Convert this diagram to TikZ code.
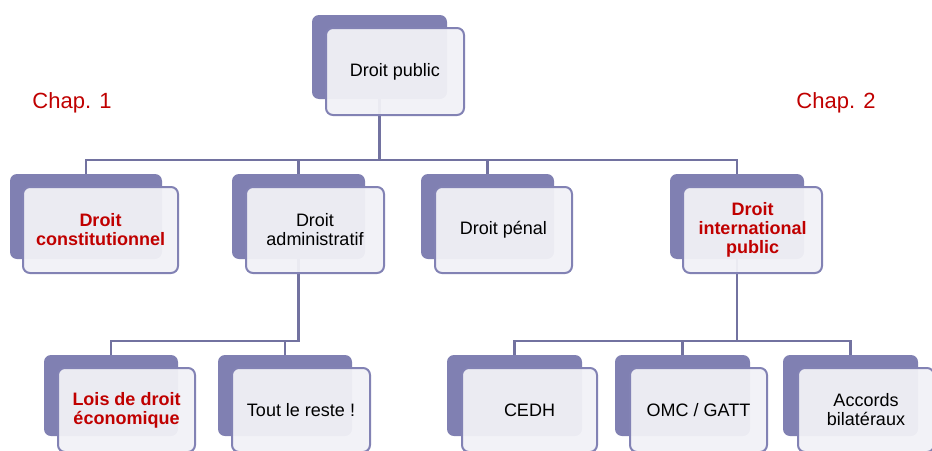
\documentclass[tikz,border=0pt]{standalone}
\usepackage{fontspec}
\setmainfont{Liberation Sans}
\usetikzlibrary{backgrounds}
\definecolor{backfill}{HTML}{8080B2}
\definecolor{frontline}{HTML}{8282B4}
\definecolor{frontfill}{HTML}{F2F2F7}
\definecolor{linkcol}{HTML}{7272A0}
\definecolor{redtxt}{HTML}{C00000}
\tikzset{
  backbox/.style={rectangle, rounded corners=7pt, fill=backfill, draw=none, inner sep=0pt},
  frontbox/.style={rectangle, rounded corners=7pt, draw=frontline, line width=2pt,
    fill=frontfill, fill opacity=0.94, text opacity=1, inner sep=2pt, align=center,
    font=\fontsize{18}{19}\selectfont},
  hot/.style={text=redtxt, font=\fontsize{18}{19}\selectfont\bfseries},
  conn/.style={draw=linkcol, line width=2.5pt},
  chap/.style={text=redtxt, font=\fontsize{22}{24}\selectfont, inner sep=0pt}
}
\begin{document}
\begin{tikzpicture}[x=1pt, y=-1pt]
\useasboundingbox (0,0) rectangle (932,450);

% root
\node[backbox, minimum width=135pt, minimum height=84pt] (topB) at (379.5,57) {};
\node[frontbox, minimum width=138pt, minimum height=87pt] (top) at (395,71.5) {Droit public};

% second level
\node[backbox, minimum width=152pt, minimum height=85pt] (consB) at (86,216.5) {};
\node[frontbox, hot, minimum width=155pt, minimum height=86pt] (cons) at (100.5,230) {Droit\\constitutionnel};

\node[backbox, minimum width=133pt, minimum height=85pt] (admB) at (298.5,216.5) {};
\node[frontbox, minimum width=138pt, minimum height=86pt] (adm) at (315,230) {Droit\\administratif};

\node[backbox, minimum width=133pt, minimum height=85pt] (penB) at (487.5,216.5) {};
\node[frontbox, minimum width=137pt, minimum height=86pt] (pen) at (503.5,230) {Droit pénal};

\node[backbox, minimum width=134pt, minimum height=85pt] (intB) at (737,216.5) {};
\node[frontbox, hot, minimum width=139pt, minimum height=86pt] (int) at (752.5,230) {Droit\\international\\public};

% third level
\node[backbox, minimum width=134pt, minimum height=81pt] (loisB) at (111,395.5) {};
\node[frontbox, hot, minimum width=137pt, minimum height=84pt] (lois) at (126.5,410) {Lois de droit\\économique};

\node[backbox, minimum width=134pt, minimum height=81pt] (toutB) at (285,395.5) {};
\node[frontbox, minimum width=138pt, minimum height=84pt] (tout) at (301,410) {Tout le reste !};

\node[backbox, minimum width=135pt, minimum height=81pt] (cedhB) at (514.5,395.5) {};
\node[frontbox, minimum width=135pt, minimum height=84pt] (cedh) at (529.5,410) {CEDH};

\node[backbox, minimum width=135pt, minimum height=81pt] (omcB) at (682.5,395.5) {};
\node[frontbox, minimum width=137pt, minimum height=84pt] (omc) at (698.5,410) {OMC / GATT};

\node[backbox, minimum width=135pt, minimum height=81pt] (accB) at (850.5,395.5) {};
\node[frontbox, minimum width=136pt, minimum height=84pt] (acc) at (866,410) {Accords\\bilatéraux};

% chapter labels
\node[chap] (chap1) at (72,103) {Chap. 1};
\node[chap] (chap2) at (836,103) {Chap. 2};

% connectors, behind the boxes
\coordinate (bus1) at (0,160);
\coordinate (bus2) at (0,341);
\begin{pgfonlayer}{background}
  \fill[white] (0,0) rectangle (932,450);
  \draw[conn] (topB.south) -- (topB.south |- bus1);
  \draw[conn] (consB.north) -- (consB.north |- bus1) -- (intB.north |- bus1) -- (intB.north);
  \draw[conn] (admB.north) -- (admB.north |- bus1);
  \draw[conn] (penB.north) -- (penB.north |- bus1);

  \draw[conn] (admB.south) -- (admB.south |- bus2) -- (loisB.north |- bus2) -- (loisB.north);
  \draw[conn] (toutB.north) -- (toutB.north |- bus2);

  \draw[conn] (intB.south) -- (intB.south |- bus2);
  \draw[conn] (cedhB.north) -- (cedhB.north |- bus2) -- (accB.north |- bus2) -- (accB.north);
  \draw[conn] (omcB.north) -- (omcB.north |- bus2);
\end{pgfonlayer}
\end{tikzpicture}
\end{document}
